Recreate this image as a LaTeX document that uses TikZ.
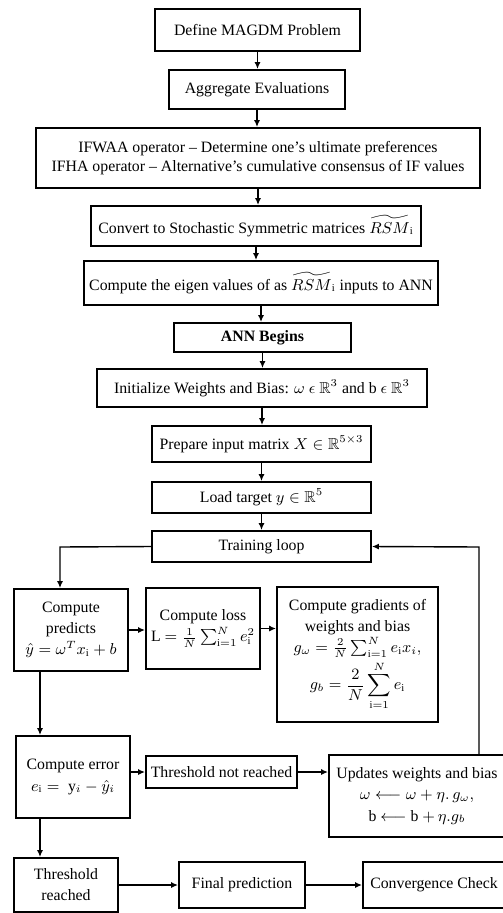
\documentclass[tikz,border=0pt]{standalone}
\usepackage{fontspec}
\setmainfont{Liberation Serif}
\usepackage{amsmath}
\usepackage{amssymb}
\usetikzlibrary{arrows.meta}
\tikzset{
  flowBox/.style={draw, line width=1.1pt, align=center, font=\fontsize{9}{11}\selectfont, inner sep=2pt},
  flowArrow/.style={->, line width=0.8pt},
  flowLine/.style={line width=0.8pt}
}

\begin{document}
\begin{tikzpicture}[
        x=0.02cm, y=-0.02cm,
        step1/.style={flowBox, minimum height=0.8cm},
        loopbox/.style={flowBox, font=\fontsize{9}{12}\selectfont, minimum width=2.28cm, minimum height=1.64cm},
        >={Latex[length=4pt,width=3.5pt]}
      ]
      \useasboundingbox (0,0) rectangle (503,913);
      \clip (0,0) rectangle (503,913);
      \node[step1, minimum width=4.1cm, minimum height=0.84cm] (define) at (257.5,30) {Define MAGDM Problem};
      \node[step1, minimum width=3.52cm, minimum height=0.78cm] (aggregate) at (257,89.5) {Aggregate Evaluations};
      \node[step1, minimum width=8.88cm, minimum height=1.2cm] (operators) at (258,158) {IFWAA operator -- Determine one's ultimate preferences\\IFHA operator -- Alternative's cumulative consensus of IF values};
      \node[step1, minimum width=6.6cm] (convert) at (256,226) {Convert to Stochastic Symmetric matrices $\widetilde{RSM}_{\mathrm{i}}$};
      \node[step1, minimum width=7.08cm, minimum height=0.88cm] (eigen) at (261,283) {Compute the eigen values of as $\widetilde{RSM}_{\mathrm{i}}$ inputs to ANN};
      \node[step1, minimum width=3.54cm, minimum height=0.58cm, font=\fontsize{9}{11}\selectfont\bfseries] (annbegin) at (262.5,337.5) {ANN Begins};
      \node[step1, minimum width=6.6cm, minimum height=0.76cm] (init) at (262,388) {Initialize Weights and Bias: $\omega\ \epsilon\ \mathbb{R}^3$ and b $\epsilon\ \mathbb{R}^3$};
      \node[step1, minimum width=4.38cm, minimum height=0.72cm] (prepare) at (261.5,444) {Prepare input matrix $X \in \mathbb{R}^{5\times 3}$};
      \node[step1, minimum width=4.38cm, minimum height=0.62cm] (load) at (261.5,497.5) {Load target $y \in \mathbb{R}^5$};
      \node[step1, minimum width=4.38cm, minimum height=0.62cm] (training) at (261.5,546.5) {Training loop};
      \draw[flowArrow] (define.south) -- (define.south |- aggregate.north);
      \draw[flowArrow] (aggregate.south) -- (aggregate.south |- operators.north);
      \draw[flowArrow] (operators.south) -- (operators.south |- convert.north);
      \draw[flowArrow] (convert.south) -- (convert.south |- eigen.north);
      \draw[flowArrow] (eigen.south) -- (eigen.south |- annbegin.north);
      \draw[flowArrow] (annbegin.south) -- (annbegin.south |- init.north);
      \draw[flowArrow] (init.south) -- (init.south |- prepare.north);
      \draw[flowArrow] (prepare.south) -- (prepare.south |- load.north);
      \draw[flowArrow] (load.south) -- (load.south |- training.north);

      \node[loopbox] (predict) at (71,630) {Compute\\predicts\\$\hat{y} = \omega^{T} x_{\mathrm{i}} + b$};
      \node[loopbox, minimum height=1.62cm] (loss) at (203,628.5) {Compute loss\\L $=\frac{1}{N}\sum_{\mathrm{i}=1}^{N} e_{\mathrm{i}}^2$};
      \node[loopbox, minimum width=3.22cm, minimum height=2.7cm] (gradient) at (357.5,654.5) {Compute gradients of\\weights and bias\\$g_\omega = \frac{2}{N}\sum_{\mathrm{i}=1}^{N} e_{\mathrm{i}} x_i,$\\[1pt]$g_b = \dfrac{2}{N}\displaystyle\sum_{\mathrm{i}=1}^{N} e_{\mathrm{i}}$};
      \node[loopbox] (error) at (73,777) {Compute error\\$e_{\mathrm{i}} =\ \mathrm{y}_i - \hat{y}_i$};
      \node[step1, minimum width=3.02cm, minimum height=0.64cm] (notreached) at (221.5,772) {Threshold not reached};
      \node[loopbox, minimum width=3.52cm] (update) at (417,796) {Updates weights and bias\\$\omega \longleftarrow \omega + \eta.\, g_\omega,$\\b $\longleftarrow$ b $+\,\eta.g_b$};
      \node[loopbox, minimum width=2.08cm, minimum height=1.08cm] (reached) at (66,885) {Threshold\\reached};
      \node[step1, minimum width=2.52cm, minimum height=0.92cm] (final) at (242,885) {Final prediction};
      \node[step1, minimum width=2.84cm, minimum height=0.92cm] (converge) at (434,885) {Convergence Check};
      \coordinate (loopL) at (60,547);
      \coordinate (loopR) at (479,547);
      \coordinate (downX) at (40,700);
      \draw[flowArrow] (training.west) -- (loopL) -- (loopL |- predict.north);
      \draw[flowArrow] (update.north -| loopR) -- (loopR) -- (training.east);
      \draw[flowArrow] (predict.east) -- (predict.east -| loss.west);
      \draw[flowArrow] (loss.east) -- (loss.east -| gradient.west);
      \draw[flowArrow] (predict.south -| downX) -- (downX |- error.north);
      \draw[flowArrow] (notreached.west -| error.east) -- (notreached.west);
      \draw[flowArrow] (notreached.east) -- (notreached.east -| update.west);
      \draw[flowArrow] (error.south -| downX) -- (downX |- reached.north);
      \draw[flowArrow] (reached.east) -- (reached.east -| final.west);
      \draw[flowArrow] (final.east) -- (final.east -| converge.west);
    \end{tikzpicture}
\end{document}
